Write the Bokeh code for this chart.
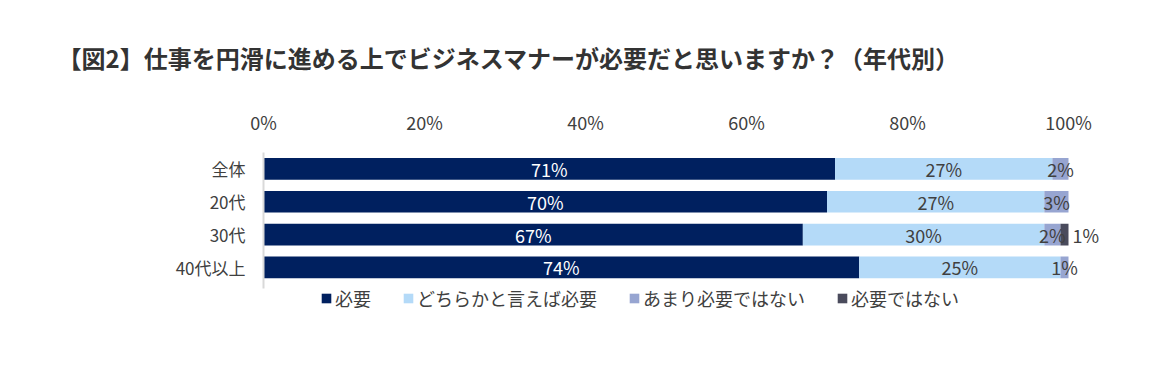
from bokeh.plotting import figure
from bokeh.models import ColumnDataSource, Legend, LegendItem, FixedTicker, Range1d, CustomJSTickFormatter
from bokeh.core.properties import value
from bokeh.embed import file_html
from bokeh.resources import INLINE

title_text = "【図2】仕事を円滑に進める上でビジネスマナーが必要だと思いますか？（年代別）"
categories = ["全体", "20代", "30代", "40代以上"]
series_names = ["必要", "どちらかと言えば必要", "あまり必要ではない", "必要ではない"]
need = [71, 70, 67, 74]
rather_need = [27, 27, 30, 25]
not_really = [2, 3, 2, 1]
not_need = [0, 0, 1, 0]
x_ticks = [0, 20, 40, 60, 80, 100]

colors = ["#00205F", "#B4DAF8", "#97A5D1", "#4A4B5C"]
label_colors = ["#FFFFFF", "#404040", "#404040", "#404040"]
FONT = "Noto Sans CJK JP"

series = [need, rather_need, not_really, not_need]
n = len(categories)
ypos = [n - 1 - j for j in range(n)]  # first category on top

# layout (pixels)
W, H = 1141, 350
FRAME_L, FRAME_R = 253, 1135
FRAME_T, FRAME_B = 152, 318
ZERO_PX, HUNDRED_PX = 263, 1068
ROW_PX = 32.83
ppu = (HUNDRED_PX - ZERO_PX) / 100.0
x_start = -(ZERO_PX - FRAME_L) / ppu
x_end = 100 + (FRAME_R - HUNDRED_PX) / ppu
y_top = (n - 1) + 0.5
y_bot = y_top - (FRAME_B - FRAME_T) / ROW_PX

p = figure(width=W, height=H, output_backend="svg", toolbar_location=None,
           x_range=Range1d(x_start, x_end), y_range=Range1d(y_bot, y_top),
           x_axis_location="above", min_border_left=FRAME_L, min_border_right=W - FRAME_R,
           min_border_top=FRAME_T, min_border_bottom=H - FRAME_B)
p.outline_line_color = None
p.grid.visible = False

# title
p.title.text = title_text
p.title.text_font = FONT
p.title.text_font_size = "24px"
p.title.text_font_style = "bold"
p.title.text_color = "#333333"
p.title.align = "left"
p.title.offset = -196
p.title.standoff = 62

data = {"y": ypos}
for i, s in enumerate(series):
    data[f"s{i}"] = s
src = ColumnDataSource(data)

renderers = p.hbar_stack([f"s{i}" for i in range(4)], y="y", height=0.66, color=colors,
                         line_color=None, source=src)

# vertical category axis line
p.segment(x0=[0], y0=[-0.64], x1=[0], y1=[y_top + 0.06], line_color="#D9D9D9", line_width=2)

# data labels
for i, s in enumerate(series):
    lefts = [sum(series[k][j] for k in range(i)) for j in range(n)]
    xs, ys, ts = [], [], []
    out_x, out_y, out_t = [], [], []
    for j, v in enumerate(s):
        if v <= 0:
            continue
        if i == 3:
            out_x.append(lefts[j] + v)
            out_y.append(ypos[j])
            out_t.append(f"{v}%")
        else:
            xs.append(lefts[j] + v / 2)
            ys.append(ypos[j])
            ts.append(f"{v}%")
    if xs:
        p.text(x=xs, y=ys, text=ts, text_align="center", text_baseline="middle",
               text_font=value(FONT), text_font_size="18px", text_color=label_colors[i])
    if out_x:
        p.text(x=out_x, y=out_y, text=out_t, text_align="left", text_baseline="middle",
               x_offset=4, text_font=value(FONT), text_font_size="18px", text_color="#404040")

# axes
xa = p.xaxis[0]
xa.ticker = FixedTicker(ticks=x_ticks)
xa.formatter = CustomJSTickFormatter(code="return tick + '%';")
xa.axis_line_color = None
xa.major_tick_line_color = None
xa.minor_tick_line_color = None
xa.major_label_standoff = 12
xa.major_label_text_font = FONT
xa.major_label_text_font_size = "18px"
xa.major_label_text_color = "#404040"

ya = p.yaxis[0]
ya.ticker = FixedTicker(ticks=ypos)
ya.major_label_overrides = {ypos[j]: categories[j] for j in range(n)}
ya.axis_line_color = None
ya.major_tick_line_color = None
ya.minor_tick_line_color = None
ya.major_label_standoff = 2
ya.major_label_text_font = FONT
ya.major_label_text_font_size = "17px"
ya.major_label_text_color = "#404040"

legend = Legend(items=[LegendItem(label=series_names[i], renderers=[renderers[i]]) for i in range(4)],
                orientation="horizontal", location=(67, 7))
legend.label_text_font = FONT
legend.label_text_font_size = "18px"
legend.label_text_color = "#404040"
legend.glyph_width = 12
legend.glyph_height = 12
legend.label_standoff = 3
legend.spacing = 31
legend.border_line_color = None
legend.background_fill_alpha = 0
legend.padding = 2
legend.margin = 0
p.add_layout(legend, "center")

open("out.html", "w").write(file_html(p, INLINE))
